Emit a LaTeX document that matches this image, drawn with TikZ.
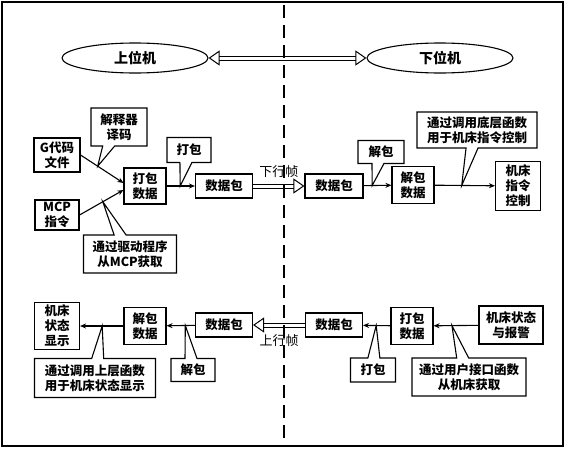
\documentclass[tikz,border=0pt]{standalone}
\usepackage{fontspec}
\newfontfamily\cjk{Noto Sans CJK SC}
\usetikzlibrary{arrows.meta,positioning,shapes.geometric,shapes.callouts}

\begin{document}
\begin{tikzpicture}[
    x=1pt, y=-1pt,
    box/.style={
        draw,
        line width=1.1pt,
        align=center,
        inner sep=1pt,
        font=\cjk\bfseries\fontsize{12.5}{15}\selectfont
    },
    note/.style={
        box,
        rectangle callout,
        callout pointer width=12pt
    },
    host/.style={
        draw,
        ellipse,
        line width=1.1pt,
        minimum width=146pt,
        minimum height=30pt,
        inner sep=0pt,
        font=\cjk\bfseries\fontsize{14}{16}\selectfont
    },
    conn/.style={
        -{Stealth[length=6pt,width=5pt]},
        line width=1.1pt
    },
    framelink/.style={
        double,
        double distance=3pt,
        line width=1pt
    },
    bigtip/.tip={Triangle[open,length=11pt,width=15pt,line width=1pt]},
    tag/.style={
        font=\cjk\fontsize{13}{15}\selectfont
    }
    ]

    \useasboundingbox (0,0) rectangle (568,450);
    \draw[line width=1.6pt] (2,2) rectangle (563,446);

    % 上位机 / 下位机
    \node[host] (upper) at (135,58) {上位机};
    \node[host] (lower) at (440,58) {下位机};
    \draw[framelink,bigtip-bigtip] (upper.east) -- (lower.west);

    % 上方：下行
    \node[box,minimum width=46pt,minimum height=34pt] (gfile) at (57,155) {G代码\\文件};
    \node[box,minimum width=44pt,minimum height=30pt] (mcp) at (57,215) {MCP\\指令};
    \node[box,minimum width=42pt,minimum height=36pt] (pack1) at (145,186) {打包\\数据};
    \node[box,minimum width=57pt,minimum height=24pt] (data1) at (224,186) {数据包};
    \node[box,minimum width=58pt,minimum height=24pt] (data2) at (334,186) {数据包};
    \node[box,minimum width=42pt,minimum height=37pt] (unpack1) at (413,185) {解包\\数据};
    \node[box,minimum width=45pt,minimum height=49pt] (ctrl) at (518,186) {机床\\指令\\控制};

    \draw[conn] (gfile.east) -- coordinate[pos=0.4] (tipG) ([yshift=3pt]pack1.west);
    \draw[conn] (mcp.east) -- coordinate[pos=0.53] (tipM) ([yshift=-4pt]pack1.west);
    \draw[conn] (pack1) -- coordinate[pos=0.48] (tipP) (data1);
    \draw[framelink,-bigtip] (data1) -- (data2)
        node[tag,midway,above=5pt] {下行帧};
    \draw[conn] (data2) -- coordinate[pos=0.31] (tipU) (unpack1);
    \draw[conn] (unpack1) -- coordinate[pos=0.45] (tipC) (ctrl);

    \node[note,minimum width=56pt,minimum height=38pt,callout absolute pointer=(tipG)] (decode) at (119,127) {解释器\\译码};
    \node[note,minimum width=93pt,minimum height=38pt,callout absolute pointer=(tipM)] (drvnote) at (130,254) {通过驱动程序\\从MCP获取};
    \node[note,minimum width=44pt,minimum height=25pt,callout absolute pointer=(tipP)] (packnote) at (189,150) {打包};
    \node[note,minimum width=46pt,minimum height=23pt,callout absolute pointer=(tipU)] (unpacknote) at (381,152) {解包};
    \node[note,minimum width=120pt,minimum height=36pt,callout absolute pointer=(tipC)] (ctrlnote) at (477,130) {通过调用底层函数\\用于机床指令控制};

    % 下方：上行
    \node[box,minimum width=45pt,minimum height=47pt] (show) at (57,326) {机床\\状态\\显示};
    \node[box,minimum width=42pt,minimum height=37pt] (unpack2) at (145,326) {解包\\数据};
    \node[box,minimum width=57pt,minimum height=24pt] (data3) at (224,325) {数据包};
    \node[box,minimum width=57pt,minimum height=24pt] (data4) at (334,325) {数据包};
    \node[box,minimum width=42pt,minimum height=37pt] (pack2) at (412,326) {打包\\数据};
    \node[box,minimum width=64pt,minimum height=38pt] (state) at (511,325) {机床状态\\与报警};

    \draw[conn] (state) -- coordinate[pos=0.59] (tipS) (pack2);
    \draw[conn] (pack2) -- coordinate[pos=0.52] (tipK) (data4);
    \draw[framelink,-bigtip] (data4) -- (data3)
        node[tag,midway,below=6pt] {上行帧};
    \draw[conn] (data3) -- coordinate[pos=0.34] (tipD) (unpack2);
    \draw[conn] (unpack2) -- coordinate[pos=0.49] (tipV) (show);

    \node[note,minimum width=121pt,minimum height=39pt,callout absolute pointer=(tipV)] (shownote) at (95,378) {通过调用上层函数\\用于机床状态显示};
    \node[note,minimum width=44pt,minimum height=23pt,callout absolute pointer=(tipD)] (unpacknote2) at (193,370) {解包};
    \node[note,minimum width=45pt,minimum height=24pt,callout absolute pointer=(tipK)] (packnote2) at (373,370) {打包};
    \node[note,minimum width=114pt,minimum height=38pt,callout absolute pointer=(tipS)] (ifnote) at (469,377) {通过用户接口函数\\从机床获取};

    % 分界线
    \coordinate (cuttop) at (284,5);
    \coordinate (cutbottom) at (284,444);
    \draw[line width=1.5pt,dash pattern=on 13pt off 7pt] (cuttop) -- (cutbottom);

\end{tikzpicture}
\end{document}
